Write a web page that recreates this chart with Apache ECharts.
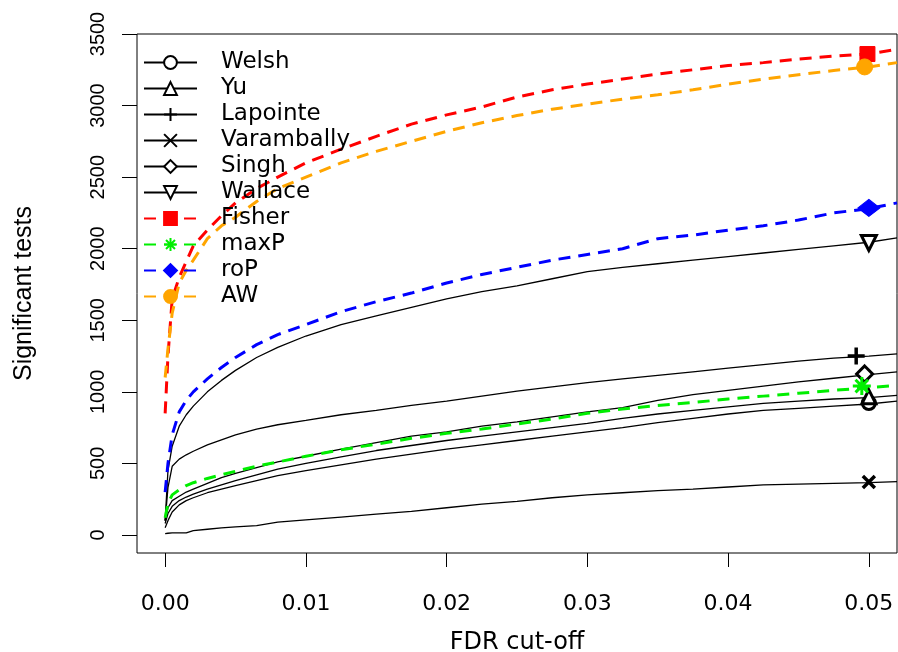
<!DOCTYPE html>
<html><head><meta charset="utf-8">
<script src="https://cdn.jsdelivr.net/npm/echarts@6/dist/echarts.min.js"></script>
<style>html,body{margin:0;padding:0;background:#fff}#c{width:898px;height:652px}</style>
</head><body><div id="c"></div>
<script>
// ---- data ----
const methods = ['Welsh','Yu','Lapointe','Varambally','Singh','Wallace','Fisher','maxP','roP','AW'];
const fdr = [0, 0.0002, 0.0005, 0.001, 0.0015, 0.002, 0.003, 0.004, 0.005, 0.0065, 0.008, 0.01, 0.0125, 0.015, 0.0175, 0.02, 0.0225, 0.025, 0.0275, 0.03, 0.0325, 0.035, 0.0375, 0.04, 0.0425, 0.045, 0.0475, 0.05, 0.052];
const welsh      = [50, 100, 160, 210, 240, 260, 295, 320, 345, 380, 415, 450, 490, 530, 565, 600, 630, 660, 690, 720, 750, 785, 815, 845, 870, 885, 900, 915, 935];
const yu         = [80, 150, 200, 240, 265, 285, 320, 350, 380, 420, 460, 500, 545, 590, 625, 660, 690, 720, 750, 780, 815, 845, 870, 895, 920, 935, 950, 960, 975];
const lapointe   = [100, 330, 480, 530, 560, 585, 630, 665, 700, 740, 770, 800, 840, 870, 905, 935, 970, 1005, 1035, 1065, 1090, 1115, 1140, 1165, 1190, 1215, 1235, 1250, 1265];
const varambally = [10, 12, 14, 15, 15, 30, 40, 50, 56, 65, 90, 105, 125, 145, 165, 190, 215, 235, 260, 280, 295, 310, 320, 335, 350, 355, 360, 365, 372];
const singh      = [100, 190, 240, 270, 300, 320, 360, 400, 430, 470, 510, 550, 600, 645, 690, 720, 760, 790, 825, 860, 890, 940, 980, 1010, 1040, 1070, 1095, 1120, 1140];
const wallace    = [100, 450, 620, 760, 840, 900, 1000, 1080, 1150, 1240, 1310, 1390, 1470, 1530, 1590, 1650, 1700, 1740, 1790, 1840, 1870, 1895, 1920, 1945, 1970, 1995, 2020, 2045, 2075];
const fisher     = [850, 1250, 1650, 1800, 1910, 2020, 2130, 2230, 2320, 2420, 2500, 2600, 2695, 2785, 2870, 2935, 2990, 3060, 3110, 3150, 3185, 3220, 3250, 3280, 3300, 3325, 3345, 3362, 3392];
const maxP       = [120, 220, 280, 315, 345, 365, 395, 420, 445, 480, 510, 550, 595, 635, 675, 710, 740, 775, 810, 850, 880, 905, 925, 950, 970, 990, 1010, 1030, 1045];
const roP        = [300, 500, 700, 860, 940, 1000, 1090, 1170, 1240, 1330, 1400, 1470, 1560, 1630, 1690, 1760, 1820, 1870, 1920, 1960, 2000, 2070, 2095, 2130, 2160, 2200, 2250, 2280, 2320];
const aw         = [1100, 1300, 1550, 1760, 1850, 1920, 2070, 2160, 2220, 2330, 2420, 2500, 2600, 2680, 2750, 2820, 2880, 2930, 2975, 3010, 3045, 3075, 3110, 3150, 3185, 3215, 3245, 3270, 3300];
const markerX = [0.05, 0.05, 0.0491, 0.05, 0.0497, 0.05, 0.0499, 0.0495, 0.05, 0.0497];
const markerY = [922, 965, 1250, 370, 1125, 2040, 3360, 1040, 2285, 3270];
const xTicks = [0, 0.01, 0.02, 0.03, 0.04, 0.05];
const yTicks = [0, 500, 1000, 1500, 2000, 2500, 3000, 3500];
const values = [welsh, yu, lapointe, varambally, singh, wallace, fisher, maxP, roP, aw];

// ---- styles ----
const PLUS = 'path://M0,5L10,5M5,0L5,10';
const CROSS = 'path://M0,0L10,10M10,0L0,10';
const STAR = 'path://M0,5L10,5M5,0L5,10M1.5,1.5L8.5,8.5M8.5,1.5L1.5,8.5';
const NONE = 'rgba(0,0,0,0)';
const st = {
  Welsh:      {c:'#000', w:1.3, dash:'solid', sym:'circle',   fill:'#fff', bc:'#000', bw:3,   size:13, lsize:12},
  Yu:         {c:'#000', w:1.3, dash:'solid', sym:'triangle', fill:'#fff', bc:'#000', bw:3,   size:14, lsize:12},
  Lapointe:   {c:'#000', w:1.3, dash:'solid', sym:PLUS,       fill:NONE,   bc:'#000', bw:3.5, size:17, lsize:13},
  Varambally: {c:'#000', w:1.3, dash:'solid', sym:CROSS,      fill:NONE,   bc:'#000', bw:3.5, size:12, lsize:10},
  Singh:      {c:'#000', w:1.3, dash:'solid', sym:'diamond',  fill:'#fff', bc:'#000', bw:3,   size:16, lsize:14},
  Wallace:    {c:'#000', w:1.3, dash:'solid', sym:'triangle', fill:'#fff', bc:'#000', bw:3,   size:15, lsize:12, rot:180},
  Fisher:     {c:'#ff0000', w:3, dash:[12,8], sym:'rect',     fill:'#ff0000', bc:'#ff0000', bw:1, size:15, lsize:12},
  maxP:       {c:'#00ee00', w:3, dash:[12,8], sym:STAR,       fill:NONE,   bc:'#00ee00', bw:3, size:18, lsize:14},
  roP:        {c:'#0000ff', w:3, dash:[12,8], sym:'diamond',  fill:'#0000ff', bc:'#0000ff', bw:1, size:[22,17], lsize:14},
  AW:         {c:'#ffa500', w:3, dash:[12,8], sym:'circle',   fill:'#ffa500', bc:'#ffa500', bw:1, size:16, lsize:13}
};

const series = [];
methods.forEach((m, i) => {
  const s = st[m];
  series.push({
    name: m, type: 'line', showSymbol: false, symbol: s.sym, symbolRotate: s.rot || 0,
    symbolSize: s.lsize,
    data: fdr.map((x, k) => [x, values[i][k]]),
    lineStyle: {color: s.c, width: s.w, type: s.dash},
    itemStyle: {color: s.fill, borderColor: s.bc, borderWidth: s.c === '#000' ? 1.3 : 1},
    z: 2, silent: true
  });
});
methods.forEach((m, i) => {
  const s = st[m];
  series.push({
    name: m, type: 'scatter', symbol: s.sym, symbolRotate: s.rot || 0, symbolSize: s.size,
    data: [[markerX[i], markerY[i]]],
    itemStyle: {color: s.fill, borderColor: s.bc, borderWidth: s.bw, opacity: 1},
    z: 3, silent: true
  });
});

// main plot box: x from 137 to 897 covers [-0.002, 0.052]
const G_L = 137, G_R = 1, G_W = 898 - G_L - G_R;
const XMIN = -0.002, XMAX = 0.052;
const pxPer = G_W / (XMAX - XMIN);
const t0 = G_L + (0 - XMIN) * pxPer;          // pixel of first tick
const t1 = G_L + (xTicks[xTicks.length - 1] - XMIN) * pxPer;  // pixel of last tick

const chart = echarts.init(document.getElementById('c'), null, {renderer: 'canvas'});
chart.setOption({
  animation: false,
  backgroundColor: '#fff',
  grid: [
    {left: G_L, right: G_R, top: 34, bottom: 99, show: true, borderColor: '#000', borderWidth: 1,
      containLabel: false, outerBoundsMode: 'none'},
    // thin strip right under the plot box: its vertical split lines act as the x tick marks
    {left: t0, right: 898 - t1, top: 553, bottom: 85, show: false, containLabel: false, outerBoundsMode: 'none'}
  ],
  xAxis: [{
    type: 'value', min: XMIN, max: XMAX, position: 'bottom', gridIndex: 0,
    name: 'FDR cut-off', nameLocation: 'middle', nameGap: 78, nameMoveOverlap: false,
    nameTextStyle: {fontFamily: 'DejaVu Sans', fontSize: 24, color: '#000'},
    axisLine: {show: false, onZero: false},
    axisTick: {show: false},
    axisLabel: {customValues: xTicks, margin: 40, fontFamily: 'DejaVu Sans', fontSize: 22, color: '#000',
      formatter: v => v.toFixed(2)},
    splitLine: {show: false}
  }, {
    type: 'value', min: 0, max: 0.05, interval: 0.01, position: 'bottom', gridIndex: 1,
    axisLine: {show: false}, axisTick: {show: false}, axisLabel: {show: false},
    splitLine: {show: true, showMinLine: true, showMaxLine: true, lineStyle: {color: '#000', width: 1, type: 'solid'}}
  }],
  yAxis: [{
    type: 'value', min: -126, max: 3500, gridIndex: 0,
    name: 'Significant tests', nameLocation: 'middle', nameGap: 100, nameRotate: 90, nameMoveOverlap: false,
    nameTextStyle: {fontFamily: 'Liberation Sans', fontSize: 25, color: '#000'},
    axisLine: {show: false, onZero: false},
    axisTick: {show: true, length: 15, customValues: yTicks, lineStyle: {color: '#000', width: 1}},
    axisLabel: {customValues: yTicks, rotate: 90, margin: 39, align: 'center', verticalAlign: 'middle',
      fontFamily: 'Liberation Sans', fontSize: 20, color: '#000', formatter: v => String(v)},
    splitLine: {show: false}
  }, {
    type: 'value', min: 0, max: 1, gridIndex: 1, show: false, splitLine: {show: false}
  }],
  legend: {
    data: methods, orient: 'vertical', left: 143, top: 51, padding: 0,
    itemWidth: 53, itemHeight: 16, itemGap: 3, selectedMode: false,
    formatter: n => '{g| }' + n,
    textStyle: {fontFamily: 'DejaVu Sans', fontSize: 23, lineHeight: 20, color: '#000',
      rich: {g: {width: 19, fontSize: 23, lineHeight: 20}}}
  },
  series: series
});
</script>
</body></html>
